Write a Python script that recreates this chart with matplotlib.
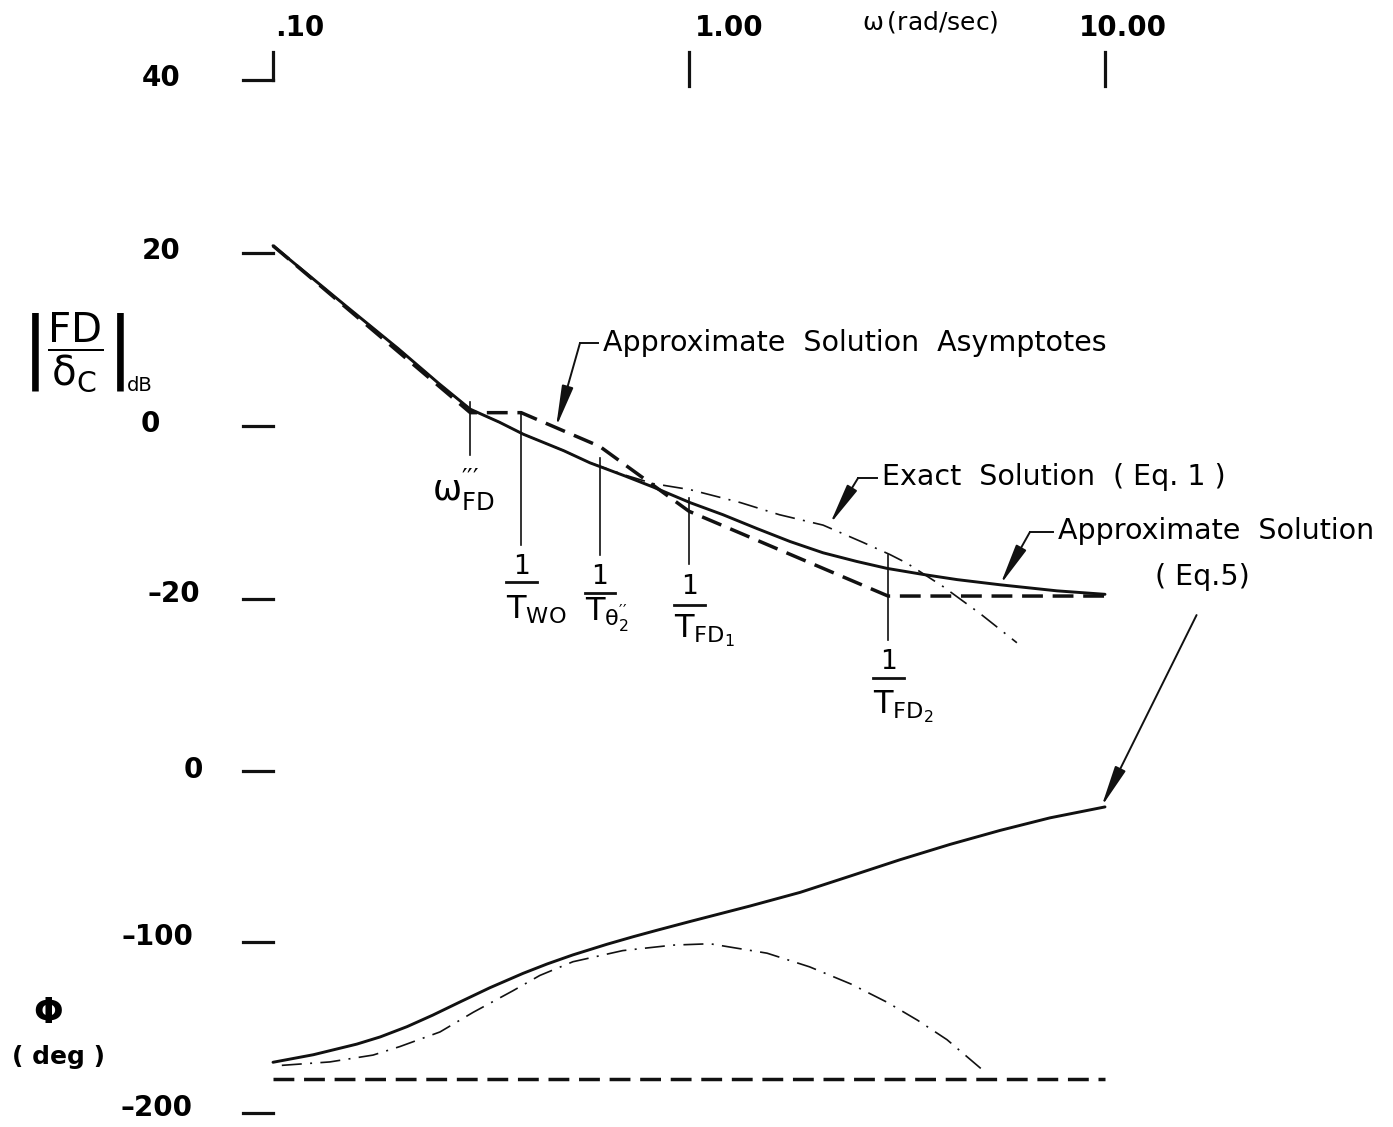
import numpy as np
import matplotlib.pyplot as plt

plt.rcParams['font.family'] = 'DejaVu Sans'
plt.rcParams['mathtext.fontset'] = 'dejavusans'
plt.rcParams['mathtext.default'] = 'regular'

# --- values (frequency in rad/sec) ---
# |FD/dc| in dB, approximate solution (Eq. 5), solid
w_mag = [0.10, 0.15, 0.20, 0.25, 0.298, 0.35, 0.40, 0.50, 0.578, 0.70, 0.82, 1.006,
         1.207, 1.457, 1.75, 2.10, 2.53, 2.99, 3.65, 4.41, 5.60, 7.67, 10.0]
mag_approx = [20.9, 13.9, 9.0, 5.0, 2.0, 0.5, -0.9, -2.8, -4.2, -5.7, -7.0, -8.8,
              -10.2, -11.8, -13.3, -14.6, -15.6, -16.4, -17.1, -17.7, -18.3, -19.0, -19.4]

# exact solution (Eq. 1), dash-dot
w_mag_exact = [0.10, 0.15, 0.20, 0.25, 0.298, 0.35, 0.40, 0.50, 0.578, 0.70, 0.82, 1.006,
               1.33, 1.65, 2.10, 2.62, 3.04, 3.34, 4.08, 5.0, 6.14]
mag_exact = [20.9, 13.9, 9.0, 5.0, 2.0, 0.5, -0.9, -2.8, -4.2, -5.6, -6.6, -7.3,
             -8.8, -10.2, -11.4, -13.4, -14.8, -15.8, -18.5, -21.6, -25.0]

# approximate solution asymptotes (corner points)
w_asym = [0.10, 0.298, 0.395, 0.61, 1.0, 3.01, 10.0]
mag_asym = [20.9, 1.6, 1.6, -2.3, -9.8, -19.6, -19.6]

# phase, deg
w_ph = [0.100, 0.125, 0.159, 0.181, 0.21, 0.242, 0.282, 0.332, 0.399, 0.456, 0.526, 0.635,
        0.734, 0.838, 1.006, 1.40, 1.85, 2.44, 3.21, 4.24, 5.60, 7.37, 10.0]
ph_approx = [-170.2, -165.8, -159.6, -155.4, -149.4, -142.7, -134.9, -126.7, -118.3, -112.8,
             -107.5, -101.3, -96.9, -93.1, -88.0, -79.0, -71.0, -61.5, -52.0, -43.0, -34.8,
             -27.5, -21.1]

w_ph_exact = [0.105, 0.137, 0.174, 0.202, 0.252, 0.303, 0.377, 0.438, 0.526, 0.693, 0.915,
              1.123, 1.54, 1.95, 2.45, 2.99, 3.54, 4.17, 5.09]
ph_exact = [-172.0, -170.0, -166.0, -161.0, -152.5, -141.0, -128.5, -119.5, -111.5, -105.0,
            -101.8, -101.0, -106.5, -114.5, -124.5, -135.1, -145.6, -157.0, -174.9]

w_ph_asym = [0.10, 10.0]
ph_asym = [-180, -180]

# break frequencies marked under the magnitude curve
w_breaks = [0.395, 0.61, 1.0, 3.01]
break_labels = [r'$T_{WO}$', r"$T_{\theta_2^{\prime\prime}}$", r'$T_{FD_1}$', r'$T_{FD_2}$']
w_omega_fd = 0.298

# axis ticks
x_ticks = [0.1, 1.0, 10.0]
x_tick_labels = ['.10', '1.00', '10.00']
mag_ticks = [40, 20, 0, -20]
ph_ticks = [0, -100, -200]


def ph2y(p):
    # phase plot shares the vertical axis with the dB plot (100 deg ~ 20 dB)
    return -39.8 + 0.198 * np.asarray(p, dtype=float)


fig = plt.figure(figsize=(13.93, 11.27), dpi=100)
ax = fig.add_axes([0, 0, 1, 1])
ax.set_xscale('log')
ax.set_xlim(10 ** (-689 / 416), 10 ** ((1393 - 689) / 416))
ax.set_ylim((426.5 - 1127) / 8.65, 426.5 / 8.65)
ax.axis('off')

k = '#111111'
dashdot = (0, (12, 5, 1.2, 5))
heavy_dash = (0, (6, 2.8))

# magnitude
ax.plot(w_mag, mag_approx, color=k, lw=2.1, solid_capstyle='round', solid_joinstyle='round')
ax.plot(w_mag_exact, mag_exact, color=k, lw=1.2, linestyle=dashdot)
ax.plot(w_asym, mag_asym, color=k, lw=2.5, linestyle=heavy_dash)

# phase
ax.plot(w_ph, ph2y(ph_approx), color=k, lw=2.1, solid_capstyle='round', solid_joinstyle='round')
ax.plot(w_ph_exact, ph2y(ph_exact), color=k, lw=1.2, linestyle=dashdot)
ax.plot(w_ph_asym, ph2y(ph_asym), color=k, lw=2.5, linestyle=heavy_dash)

# --- axis ticks drawn as short strokes ---
x0 = x_ticks[0]
top_lo, top_hi = 39.4, 43.3
for xt in x_ticks[1:]:
    ax.plot([xt, xt], [top_lo, top_hi], color=k, lw=2.3)
ax.plot([x0, x0], [mag_ticks[0], top_hi], color=k, lw=2.3)
for v in mag_ticks:
    ax.plot([x0 / 1.18, x0], [v, v], color=k, lw=2.3)
for v in ph_ticks:
    ax.plot([x0 / 1.18, x0], [ph2y(v)] * 2, color=k, lw=2.3)

tick_font = dict(fontsize=20, fontweight='bold', ha='center', va='center')
top_dx = [27, 40, 18]
for xt, lab, dx in zip(x_ticks, x_tick_labels, top_dx):
    ax.annotate(lab, xy=(xt, top_hi), xytext=(dx, 24), textcoords='offset pixels', **tick_font)
ax.text(3.8, 46.8, r'$\omega\,$(rad/sec)', fontsize=18, ha='center', va='center')

mag_dx = [(-112, 2), (-112, 2), (-123, 2), (-99, 5)]
for v, (dx, dy) in zip(mag_ticks, mag_dx):
    ax.annotate(f'{v}'.replace('-', '\u2013'), xy=(x0, v), xytext=(dx, dy),
                textcoords='offset pixels', **tick_font)
ph_dx = [(-80, 1), (-116, 5), (-116, 5)]
for v, (dx, dy) in zip(ph_ticks, ph_dx):
    ax.annotate(f'{v}'.replace('-', '\u2013'), xy=(x0, ph2y(v)), xytext=(dx, dy),
                textcoords='offset pixels', **tick_font)

# axis titles
ax.text(0.053, 0.688, r'$\left|\dfrac{FD}{\delta_C}\right|$', transform=ax.transAxes,
        fontsize=29, ha='center', va='center')
ax.text(0.1, 0.658, 'dB', transform=ax.transAxes, fontsize=14, ha='center', va='center')
ax.text(0.0345, 0.101, r'$\mathbf{\Phi}$', transform=ax.transAxes,
        fontsize=25, ha='center', va='center')
ax.text(0.042, 0.062, '( deg )', transform=ax.transAxes,
        fontsize=18, fontweight='bold', ha='center', va='center')

# --- break-frequency markers ---
ax.plot([w_omega_fd, w_omega_fd], [2.8, -3.3], color=k, lw=1.2)
ax.text(w_omega_fd * 0.965, -7.3, r"$\omega_{FD}^{\prime\prime\prime}$", fontsize=25,
        ha='center', va='center')

marker_y = [  # line top, line bottom, "1", bar, label (dB units)
    (1.7, -13.7, -16.2, -18.0, -21.2),
    (-3.6, -14.9, -17.4, -19.2, -21.8),
    (-8.3, -15.9, -18.6, -20.6, -23.6),
    (-14.9, -24.7, -27.2, -29.1, -32.4),
]
for w, lab, (yt, yb, y1, ybar, ylab) in zip(w_breaks, break_labels, marker_y):
    ax.plot([w, w], [yt, yb], color=k, lw=1.2)
    ax.text(w, y1, '1', fontsize=19, ha='center', va='center')
    ax.plot([w / 1.085, w * 1.09], [ybar, ybar], color=k, lw=2.0)
    ax.text(w / 1.085, ylab, lab, fontsize=23, ha='left', va='center')

# --- callouts ---
arrow = dict(arrowstyle='-|>,head_length=1.15,head_width=0.16', color=k, lw=1.4,
             shrinkA=0, shrinkB=0, mutation_scale=22)
note_font = dict(fontsize=20.5, ha='left', va='center')

ax.text(0.62, 9.65, 'Approximate  Solution  Asymptotes', **note_font)
ax.plot([0.604, 0.547], [9.65, 9.65], color=k, lw=1.4)
ax.annotate('', xy=(0.479, -0.1), xytext=(0.547, 9.65), arrowprops=arrow)

ax.text(2.91, -5.8, 'Exact  Solution  ( Eq. 1 )', **note_font)
ax.plot([2.83, 2.55], [-5.95, -5.95], color=k, lw=1.4)
ax.annotate('', xy=(2.18, -11.3), xytext=(2.55, -5.95), arrowprops=arrow)

ax.text(7.71, -12.1, 'Approximate  Solution', **note_font)
ax.text(13.2, -17.4, '( Eq.5)', **note_font)
ax.plot([7.5, 6.6], [-12.2, -12.2], color=k, lw=1.4)
ax.annotate('', xy=(5.6, -18.3), xytext=(6.6, -12.2), arrowprops=arrow)
ax.annotate('', xy=(w_ph[-1] * 0.98, ph2y(ph_approx[-1])), xytext=(16.6, -21.8), arrowprops=arrow)

fig.savefig('out.png', dpi=100, facecolor='white')
